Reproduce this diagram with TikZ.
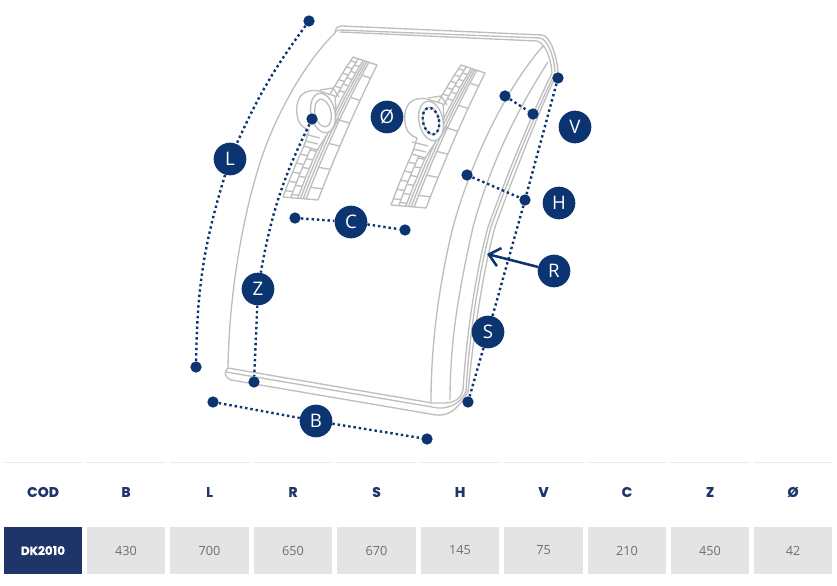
\documentclass[tikz,border=0pt]{standalone}
\usepackage{fontspec}
\setmainfont{Open Sans}
\newfontfamily\headfont{Poppins}[BoldFeatures={FakeBold=0.4}]
\usetikzlibrary{arrows.meta,calc}
\definecolor{navy}{HTML}{0B3471}
\definecolor{tablenavy}{HTML}{1E3569}
\definecolor{cellgray}{HTML}{E4E4E4}
\definecolor{rulegray}{HTML}{E8E8E8}
\definecolor{valgray}{HTML}{6E6E6E}
\definecolor{linegray}{HTML}{BEBEBE}
\tikzset
{
	declare function={
		lx(\t)=(1-\t)^2*353+2*\t*(1-\t)*312+\t^2*283;
		ly(\t)=(1-\t)^2*57+2*\t*(1-\t)*118+\t^2*197;
		rx(\t)=(1-\t)^2*377+2*\t*(1-\t)*345+\t^2*318;
		ry(\t)=(1-\t)^2*65+2*\t*(1-\t)*130+\t^2*200;
		px(\t,\u)=lx(\t)+\u*(rx(\t)-lx(\t));
		py(\t,\u)=ly(\t)+\u*(ry(\t)-ly(\t));
	},
	plate/.style = {draw=linegray, line width=1pt, line join=round},
	bodyfill/.style = {plate, fill=white},
	dimline/.style = {draw=navy, line width=1.8pt, dash pattern=on 1.8pt off 2.2pt},
	endpoint/.style = {circle, fill=navy, minimum size=8.5pt, inner sep=0pt},
	badge/.style = {circle, fill=navy, text=white, minimum size=24.5pt, inner sep=0pt, font=\fontsize{14}{14}\selectfont},
	pointer/.style = {draw=navy, line width=1.9pt, {Straight Barb[length=8pt,width=14pt]}-},
	headcell/.style = {text=tablenavy, font=\headfont\bfseries\fontsize{10.5}{11}\selectfont},
	valcell/.style = {fill=cellgray, text=valgray, minimum width=#1, minimum height=35.25pt, inner sep=0pt, font=\fontsize{9.5}{10}\selectfont},
	codecell/.style = {fill=tablenavy, text=white, minimum width=58.5pt, minimum height=35.25pt, inner sep=0pt, font=\headfont\bfseries\fontsize{9}{10}\selectfont},
	clamp/.pic = {
		\draw[bodyfill] plot[domain=0:1,samples=14] ({px(\x,0)},{py(\x,0)}) -- plot[domain=1:0,samples=14] ({px(\x,1)},{py(\x,1)}) -- cycle;
		\foreach \u in {0.22,0.42,0.5,0.58,0.66}
			\draw[plate] plot[domain=0:1,samples=14] ({px(\x,\u)},{py(\x,\u)});
		\foreach \t in {0.03,0.08,...,0.24,0.6,0.66,...,0.98}
			\draw[plate] ({px(\t,0)},{py(\t,0)}) -- ({px(\t,0.22)},{py(\t,0.22)}) ({px(\t+0.02,0.22)},{py(\t+0.02,0.22)}) -- ({px(\t+0.02,0.42)},{py(\t+0.02,0.42)});
		\foreach \t in {0.1,0.27,0.44,0.61,0.78,0.92}
			\draw[plate] ({px(\t,0.66)},{py(\t,0.66)}) -- ({px(\t,1)},{py(\t,1)});
		\draw[bodyfill] (319,91) .. controls (303,88) and (295,98) .. (297,114) .. controls (298,124) and (303,128) .. (309,130) -- (306,140) -- (304,146) -- (317,150) -- (327,135) -- (336,110) -- (335,96) -- cycle;
		\draw[plate] (304,134) -- (320,138) (305,141) -- (318,144);
		\draw[bodyfill, rotate around={12:(323,113)}] (323,113) ellipse (12 and 20);
		\draw[plate, rotate around={12:(323,113)}] (323,113) ellipse (8 and 14);
		\draw[plate] (320,90) -- (333,88) -- (339,97) (332,130) -- (339,118);
	}
}
\begin{document}
\begin{tikzpicture}[x=0.75pt, y=-0.75pt]
	\useasboundingbox (0,0) rectangle (837,585);

	\draw[plate] (228,368) .. controls (229,290) and (245,200) .. (267,143) .. controls (285,97) and (312,55) .. (335,33);
	\draw[plate] (335,33) .. controls (335,28) and (338,26) .. (342,26) -- (542,35) .. controls (550,36) and (557,55) .. (558,73);
	\draw[plate] (336,31) -- (340,30) -- (540,38) .. controls (547,39) and (554,55) .. (555,72);
	\draw[plate] (340,32) -- (537,41) .. controls (545,43) and (551,58) .. (552,73);
	\draw[plate] (543,46) .. controls (503,92) and (470,165) .. (453,227) .. controls (440,280) and (431,340) .. (431,402);
	\draw[plate] (548,62) .. controls (517,110) and (490,165) .. (473,227) .. controls (459,290) and (450,340) .. (450,400);
	\draw[plate] (552,73) .. controls (530,118) and (505,180) .. (488,227) .. controls (475,275) and (466,340) .. (463,390);
	\draw[plate] (555,73) .. controls (533,118) and (508,180) .. (491,227) .. controls (478,275) and (469,340) .. (466,391);
	\draw[plate] (557,73) .. controls (536,118) and (512,180) .. (495,227) .. controls (482,275) and (473,340) .. (468,392);
	\draw[plate] (228,368) -- (432,403) -- (445,403) .. controls (455,403) and (462,397) .. (463,390);
	\draw[plate] (226,372) -- (438,408) .. controls (452,409) and (463,400) .. (466,391);
	\draw[plate] (228,368) .. controls (223,372) and (225,378) .. (231,380) -- (436,415) .. controls (447,416) and (456,412) .. (468,392);

	\pic at (0,0) {clamp};
	\pic at (108,8) {clamp};

	\node (ltop) [endpoint] at (309,21) {};
	\node (lbot) [endpoint] at (196,367) {};
	\node (ztop) [endpoint] at (312,119) {};
	\node (zbot) [endpoint] at (254,382) {};
	\node (cleft) [endpoint] at (295,218) {};
	\node (cright) [endpoint] at (405,230) {};
	\node (vleft) [endpoint] at (505,96) {};
	\node (vright) [endpoint] at (533,114) {};
	\node (stop) [endpoint] at (558,78) {};
	\node (hleft) [endpoint] at (467,175) {};
	\node (hright) [endpoint] at (525,200) {};
	\node (sbot) [endpoint] at (468,402) {};
	\node (bleft) [endpoint] at (213,402) {};
	\node (bright) [endpoint] at (427,439) {};
	\coordinate (rtip) at (487,254);

	\node (labL) [badge] at (230,159) {L};
	\node (labZ) [badge] at (258,289) {Z};
	\node (labC) [badge] at (351,222) {C};
	\node (labO) [badge] at (387,117) {Ø};
	\node (labV) [badge] at (575,127) {V};
	\node (labH) [badge] at (559,203) {H};
	\node (labR) [badge] at (554,271) {R};
	\node (labS) [badge] at (488,332) {S};
	\node (labB) [badge] at (316,421) {B};

	\draw[dimline] (ltop) to[bend right=6] (labL);
	\draw[dimline] (labL) to[bend right=8] (lbot);
	\draw[dimline] (ztop) to[bend right=8] (labZ);
	\draw[dimline] (labZ) -- (zbot);
	\draw[dimline] (cleft) -- (labC);
	\draw[dimline] (labC) -- (cright);
	\draw[dimline] (vleft) -- (vright);
	\draw[dimline] (hleft) -- (hright);
	\draw[dimline] (stop) -- (hright);
	\draw[dimline] (hright) -- (labS);
	\draw[dimline] (labS) -- (sbot);
	\draw[dimline] (bleft) -- (labB);
	\draw[dimline] (labB) -- (bright);
	\draw[dimline, rotate around={12:(431,121)}] (431,121) ellipse (8 and 13.5);
	\draw[pointer] (rtip) -- (labR);

	\foreach \i/\xa/\xb/\hd/\val in {1/87/165/B/430,2/170/249/L/700,3/254/332/R/650,4/337/416/S/670,5/421/499/H/145,6/504/583/V/75,7/588/666/C/210,8/671/749/Z/450,9/754/832/Ø/42}
	{
		\draw[rulegray, line width=0.75pt] (\xa,462) -- (\xb,462);
		\node (head\i) [headcell] at ({(\xa+\xb)/2},492) {\hd};
		\pgfmathsetmacro{\cellw}{(\xb-\xa)*0.75}
		\node (val\i) [valcell=\cellw pt] at ({(\xa+\xb)/2},550.5) {\val};
	}
	\draw[rulegray, line width=0.75pt] (4,462) -- (82,462);
	\node (headcod) [headcell] at (43,492) {COD};
	\node (valcod) [codecell] at (43,550.5) {DK2010};
\end{tikzpicture}
\end{document}
